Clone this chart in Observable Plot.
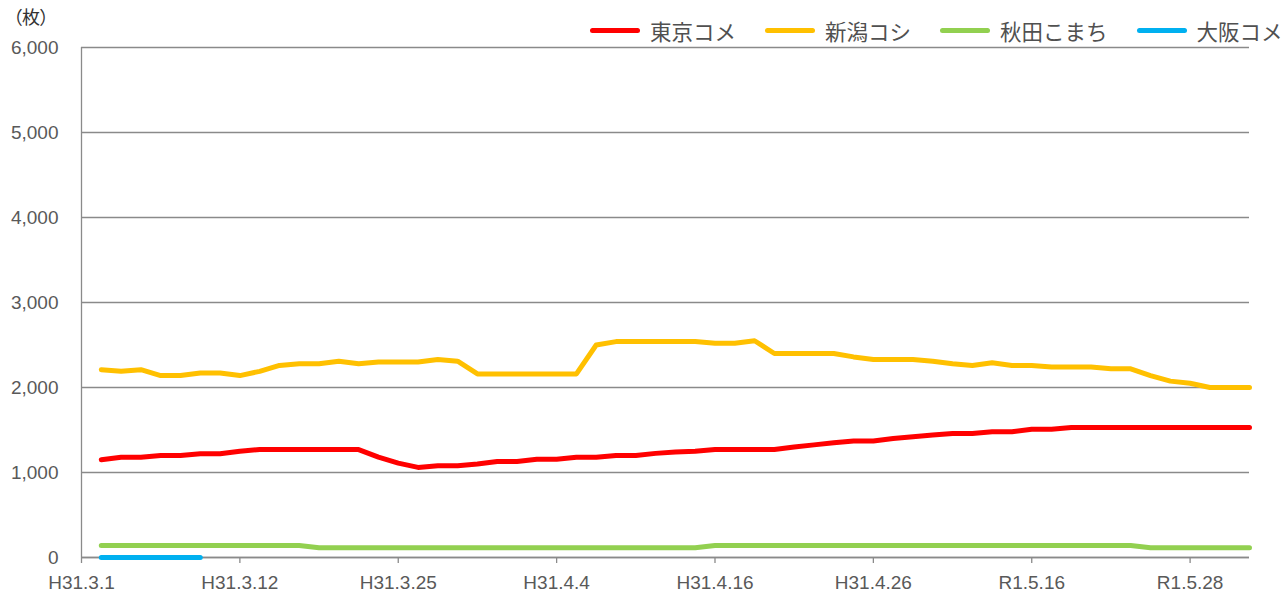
<!DOCTYPE html>
<html>
<head>
<meta charset="utf-8">
<script src="https://cdn.jsdelivr.net/npm/d3@7"></script>
<script src="https://cdn.jsdelivr.net/npm/@observablehq/plot@0.6"></script>
<style>
  html, body { margin: 0; padding: 0; background: #fff; }
  #wrap { position: relative; width: 1283px; height: 594px; overflow: hidden; }
  #unit { position: absolute; left: 13px; top: 5px; font-family: "Noto Sans CJK JP", sans-serif; font-size: 18px; color: #333; font-feature-settings: "palt"; line-height: 1.3; }
  #legend { position: absolute; left: 590px; top: 15px; display: flex; align-items: center; gap: 29px; font-family: "Noto Sans CJK JP", sans-serif; font-size: 21.5px; color: #505050; white-space: nowrap; }
  #legend .item { display: flex; align-items: center; }
  #legend .sw { display: inline-block; width: 50px; height: 5px; border-radius: 3px; margin-right: 10px; }
</style>
</head>
<body>
<div id="wrap">
  <div id="chart"></div>
  <div id="unit">（枚）</div>
  <div id="legend"></div>
</div>
<script>
// Series names and colours
const seriesNames = ["東京コメ", "新潟コシ", "秋田こまち", "大阪コメ"];
const seriesColors = ["#FF0000", "#FFC000", "#92D050", "#00B0F0"];

// Category axis: tick positions (category index) and their labels
const tickIndex = [0, 8, 16, 24, 32, 40, 48, 56];
const tickLabels = ["H31.3.1", "H31.3.12", "H31.3.25", "H31.4.4", "H31.4.16", "H31.4.26", "R1.5.16", "R1.5.28"];
const categoryCount = 59;

// Y ticks
const yTicks = [0, 1000, 2000, 3000, 4000, 5000, 6000];

// Series values (one per category, starting at category 1)
const tokyo = [
  1150, 1180, 1180, 1200, 1200, 1220, 1220, 1250, 1270, 1270,
  1270, 1270, 1270, 1270, 1180, 1110, 1060, 1080, 1080, 1100,
  1130, 1130, 1155, 1155, 1180, 1180, 1200, 1200, 1225, 1240,
  1250, 1270, 1270, 1270, 1270, 1300, 1325, 1350, 1370, 1370,
  1400, 1420, 1440, 1460, 1460, 1480, 1480, 1510, 1510, 1530,
  1530, 1530, 1530, 1530, 1530, 1530, 1530, 1530, 1530
];
const niigata = [
  2210, 2190, 2210, 2140, 2140, 2170, 2170, 2140, 2190, 2260,
  2280, 2280, 2310, 2280, 2300, 2300, 2300, 2330, 2310, 2160,
  2160, 2160, 2160, 2160, 2160, 2500, 2540, 2540, 2540, 2540,
  2540, 2520, 2520, 2550, 2400, 2400, 2400, 2400, 2360, 2330,
  2330, 2330, 2310, 2280, 2260, 2290, 2260, 2260, 2240, 2240,
  2240, 2220, 2220, 2140, 2075, 2050, 2000, 2000, 2000
];
const akita = [
  140, 140, 140, 140, 140, 140, 140, 140, 140, 140,
  140, 115, 115, 115, 115, 115, 115, 115, 115, 115,
  115, 115, 115, 115, 115, 115, 115, 115, 115, 115,
  115, 140, 140, 140, 140, 140, 140, 140, 140, 140,
  140, 140, 140, 140, 140, 140, 140, 140, 140, 140,
  140, 140, 140, 115, 115, 115, 115, 115, 115
];
const osaka = [0, 0, 0, 0, 0, 0];

const seriesValues = [tokyo, niigata, akita, osaka];
const data = seriesValues.flatMap((vals, s) =>
  vals.map((v, i) => ({ series: seriesNames[s], idx: i + 1, value: v }))
);

const gridColor = "#8a8a8a";
const textColor = "#595959";
const font = "'Liberation Sans', Arial, sans-serif";

const chart = Plot.plot({
  width: 1283,
  height: 594,
  marginLeft: 81,
  marginRight: 34,
  marginTop: 47,
  marginBottom: 37,
  style: { fontFamily: font, fontSize: "19px", background: "#fff", color: textColor, overflow: "visible" },
  x: { type: "linear", domain: [0, categoryCount] },
  y: { domain: [0, 6000] },
  color: { domain: seriesNames, range: seriesColors },
  marks: [
    Plot.gridY(yTicks, { stroke: gridColor, strokeOpacity: 1, strokeWidth: 1.3 }),
    Plot.ruleX([0], { stroke: gridColor, strokeWidth: 1.3 }),
    Plot.ruleY([0], { stroke: gridColor, strokeWidth: 1.3 }),
    Plot.axisY(yTicks, { tickSize: 0, tickPadding: 23, tickFormat: d3.format(","), label: null, fill: textColor }),
    Plot.axisX(tickIndex, {
      tickSize: 6, tickPadding: 12, stroke: gridColor, strokeWidth: 1.3,
      tickFormat: (d) => tickLabels[tickIndex.indexOf(d)], label: null, fill: textColor
    }),
    Plot.line(data, {
      x: "idx", y: "value", z: "series", stroke: "series",
      strokeWidth: 5, strokeLinecap: "round", strokeLinejoin: "round"
    })
  ]
});
document.getElementById("chart").appendChild(chart);

// Legend
const legend = document.getElementById("legend");
seriesNames.forEach((n, i) => {
  const item = document.createElement("div");
  item.className = "item";
  const sw = document.createElement("span");
  sw.className = "sw";
  sw.style.background = seriesColors[i];
  const t = document.createElement("span");
  t.textContent = n;
  item.appendChild(sw);
  item.appendChild(t);
  legend.appendChild(item);
});
</script>
</body>
</html>
